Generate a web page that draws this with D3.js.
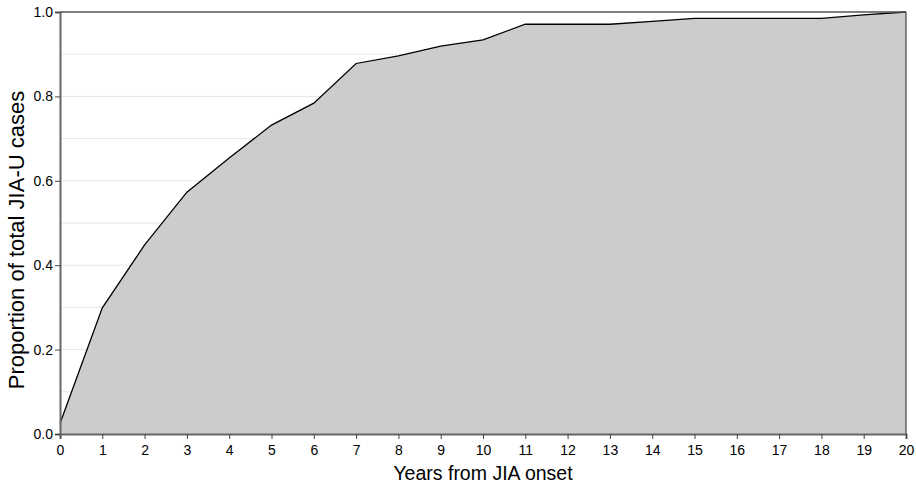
<!DOCTYPE html>
<html>
<head>
<meta charset="utf-8">
<script src="https://cdn.jsdelivr.net/npm/d3@7"></script>
<style>
  body { margin: 0; background: #fff; }
  text { font-family: "Liberation Sans", Arial, sans-serif; }
</style>
</head>
<body>
<div id="chart"></div>
<script>
var years = [0, 1, 2, 3, 4, 5, 6, 7, 8, 9, 10, 11, 12, 13, 14, 15, 16, 17, 18, 19, 20]
var proportion = [0.025, 0.299, 0.448, 0.573, 0.654, 0.732, 0.784, 0.878, 0.896, 0.919, 0.934,
                  0.971, 0.971, 0.971, 0.978, 0.985, 0.985, 0.985, 0.985, 0.993, 1.0]
var yTicks = [0, 0.2, 0.4, 0.6, 0.8, 1.0]
var yGrid = [0.1, 0.2, 0.3, 0.4, 0.5, 0.6, 0.7, 0.8, 0.9]

var width = 916,
    height = 485,
    margin = {top: 12, right: 10, bottom: 51, left: 60}

var innerW = width - margin.left - margin.right,
    innerH = height - margin.top - margin.bottom

var svg = d3.select("#chart")
  .append("svg")
    .attr("width", width)
    .attr("height", height)

var g = svg.append("g")
    .attr("transform", "translate(" + margin.left + "," + margin.top + ")")

var x = d3.scaleLinear().domain([0, 20]).range([0, innerW])
var y = d3.scaleLinear().domain([0, 1]).range([innerH, 0])

var data = years.map(function(d, i) { return {x: d, y: proportion[i]} })

// grid
g.selectAll(".grid")
  .data(yGrid)
  .enter().append("line")
    .attr("x1", 0).attr("x2", innerW)
    .attr("y1", function(d) { return y(d) }).attr("y2", function(d) { return y(d) })
    .attr("stroke", "#e6e6e6")
    .attr("stroke-width", 1)

// area
g.append("path")
  .datum(data)
  .attr("fill", "#cbcccb")
  .attr("d", d3.area()
    .x(function(d) { return x(d.x) })
    .y0(innerH)
    .y1(function(d) { return y(d.y) }))

g.append("path")
  .datum(data)
  .attr("fill", "none")
  .attr("stroke", "#000")
  .attr("stroke-width", 1.3)
  .attr("d", d3.line()
    .x(function(d) { return x(d.x) })
    .y(function(d) { return y(d.y) }))

// frame top and right
g.append("line")
  .attr("x1", 0).attr("x2", innerW).attr("y1", 0).attr("y2", 0)
  .attr("stroke", "#555").attr("stroke-width", 1.5)
g.append("line")
  .attr("x1", innerW).attr("x2", innerW).attr("y1", 0).attr("y2", innerH)
  .attr("stroke", "#444").attr("stroke-width", 1.2)

// axes
var xAxis = g.append("g")
  .attr("transform", "translate(0," + innerH + ")")
  .call(d3.axisBottom(x).tickValues(years).tickFormat(d3.format("d")).tickSizeOuter(0).tickSize(5))

var yAxis = g.append("g")
  .call(d3.axisLeft(y).tickValues(yTicks).tickFormat(d3.format(".1f")).tickSizeOuter(0).tickSize(5))

;[xAxis, yAxis].forEach(function(a) {
  a.select(".domain").attr("stroke", "#666").attr("stroke-width", 2)
  a.selectAll(".tick line").attr("stroke", "#444")
  a.selectAll(".tick text")
    .attr("fill", "#000")
    .style("font-size", "14px")
    .style("font-family", "Liberation Sans, Arial, sans-serif")
})
xAxis.selectAll(".tick text").attr("dy", "0.95em")
yAxis.selectAll(".tick text").attr("x", -7)

// titles
svg.append("text")
  .attr("x", margin.left + innerW / 2)
  .attr("y", 480)
  .attr("text-anchor", "middle")
  .style("font-size", "19.5px")
  .text("Years from JIA onset")

svg.append("text")
  .attr("transform", "translate(24,240) rotate(-90)")
  .attr("text-anchor", "middle")
  .style("font-size", "22px")
  .text("Proportion of total JIA-U cases")
</script>
</body>
</html>
